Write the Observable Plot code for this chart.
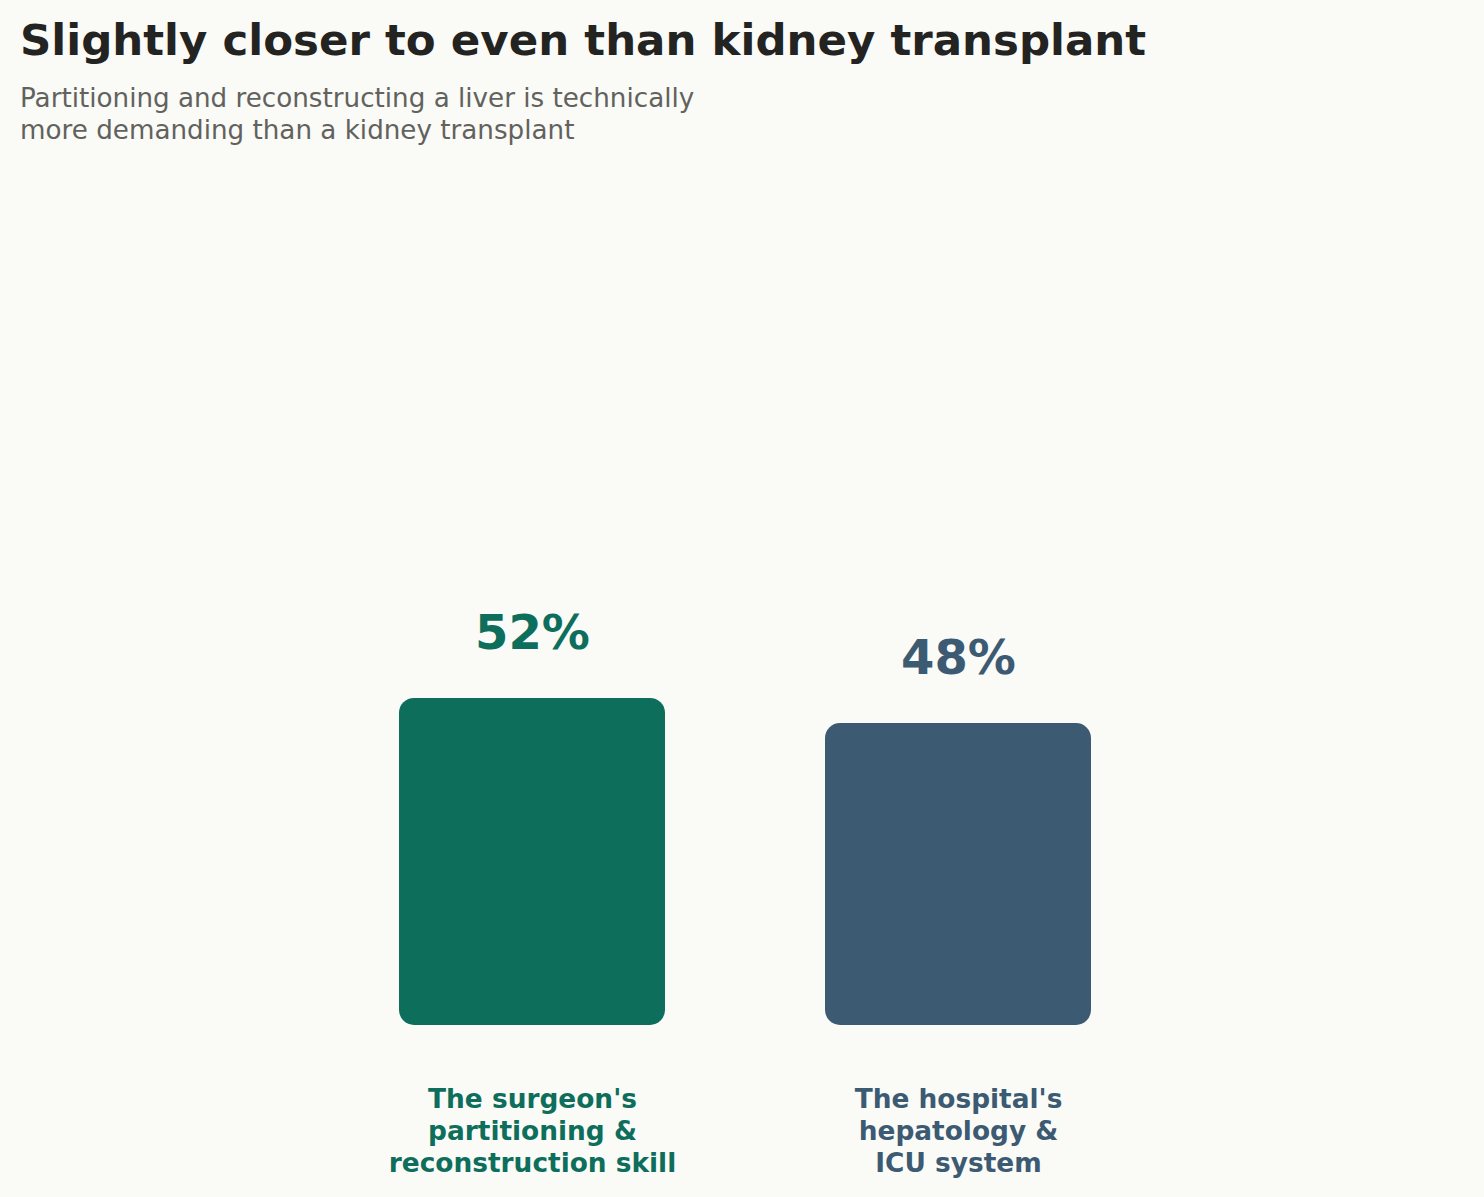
<!DOCTYPE html>
<html>
<head>
<meta charset="utf-8">
<script src="https://cdn.jsdelivr.net/npm/d3@7"></script>
<script src="https://cdn.jsdelivr.net/npm/@observablehq/plot@0.6"></script>
<style>
  html, body { margin: 0; padding: 0; background: #fafaf7; }
  body { width: 1484px; height: 1197px; overflow: hidden; font-family: "DejaVu Sans", sans-serif; }
  #header { height: 170px; box-sizing: border-box; padding: 15px 0 0 20px; }
  #title { font-size: 43.5px; font-weight: bold; color: #232321; line-height: 50px; margin: 0; }
  #subtitle { font-size: 26.2px; color: #62625d; line-height: 32px; margin-top: 17px; }
  #chart svg { display: block; }
</style>
</head>
<body>
<div id="header">
  <div id="title">Slightly closer to even than kidney transplant</div>
  <div id="subtitle">Partitioning and reconstructing a liver is technically<br>more demanding than a kidney transplant</div>
</div>
<div id="chart"></div>
<script>
const categories = ["surgeon", "hospital"];
const labels = ["The surgeon's\npartitioning &\nreconstruction skill", "The hospital's\nhepatology &\nICU system"];
const values = [52, 48];
const palette = ["#0e6e5c", "#3d5a73"];

const data = categories.map((c, i) => ({category: c, label: labels[i], value: values[i]}));

const chart = Plot.plot({
  width: 1484,
  height: 1027,
  marginLeft: 238,
  marginRight: 232,
  marginTop: 226,
  marginBottom: 172,
  style: {background: "transparent", fontFamily: "DejaVu Sans, sans-serif"},
  x: {domain: categories, padding: 0.375, axis: null},
  y: {domain: [0, 100], axis: null},
  color: {domain: categories, range: palette},
  marks: [
    Plot.barY(data, {x: "category", y: "value", fill: "category", rx: 15}),
    Plot.text(data, {
      x: "category", y: "value", text: d => d.value + "%", fill: "category",
      fontSize: 48, fontWeight: "bold", lineAnchor: "middle", dy: -65
    }),
    Plot.text(data, {
      x: "category", y: () => 0, text: "label", fill: "category",
      fontSize: 26.4, fontWeight: "bold", lineAnchor: "top", lineHeight: 1.21, dy: 60
    })
  ]
});
document.getElementById("chart").appendChild(chart);
</script>
</body>
</html>
